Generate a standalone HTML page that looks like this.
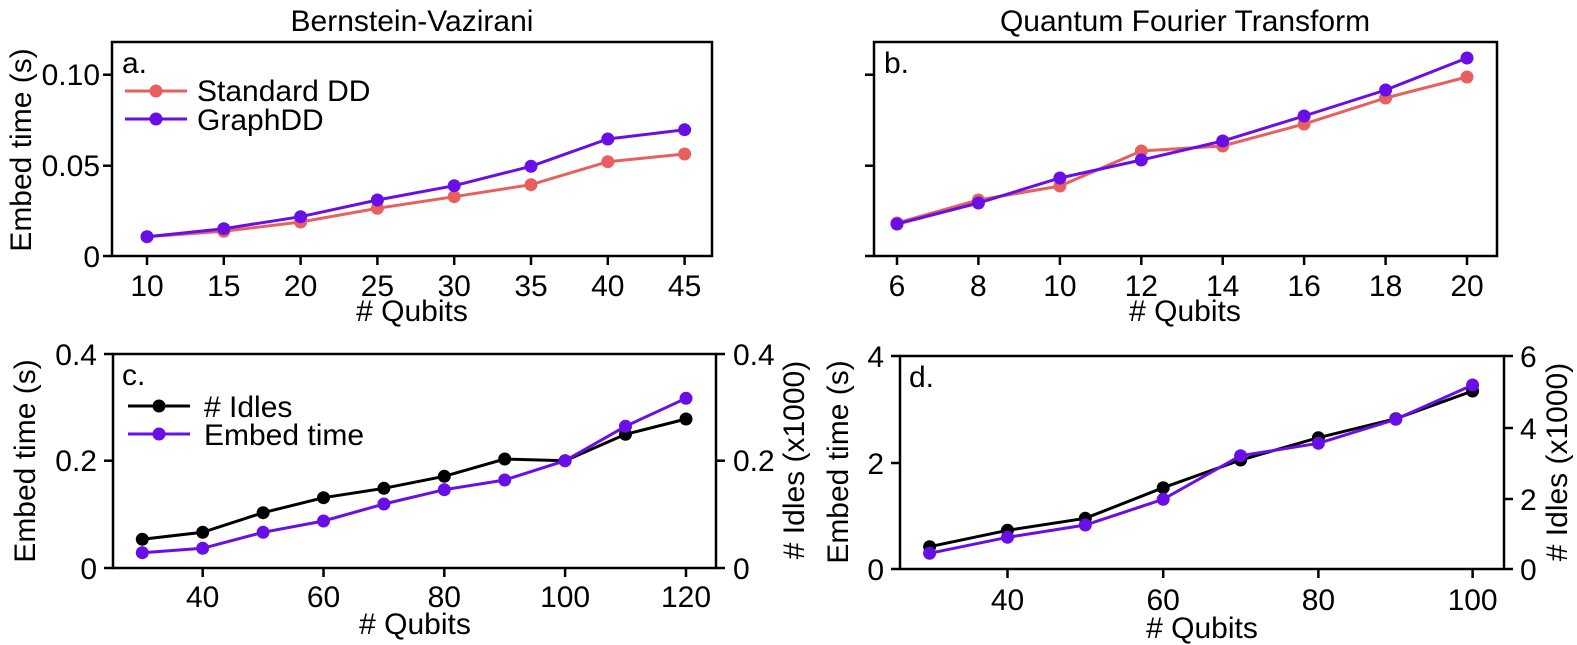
<!DOCTYPE html>
<html><head><meta charset="utf-8"><style>
body{margin:0;background:#fff}
svg{display:block}
text{font-family:"Liberation Sans",Arial,sans-serif;fill:#000}
.t{font-size:30px}
.ax{fill:none;stroke:#000;stroke-width:2.5}
.tk{stroke:#000;stroke-width:2.5}
.r{fill:none;stroke:#e8605e;stroke-width:3}
.p{fill:none;stroke:#6a0ee8;stroke-width:3}
.k{fill:none;stroke:#000;stroke-width:3}
</style></head><body>
<svg width="1577" height="645" viewBox="0 0 1577 645" xmlns="http://www.w3.org/2000/svg">
<defs>
<g id="mr"><circle r="6.5" fill="#e8605e"/></g>
<g id="mp"><circle r="6.5" fill="#6a0ee8"/></g>
<g id="mk"><circle r="6.5" fill="#000"/></g>
</defs>
<text x="412" y="31" class="t" text-anchor="middle">Bernstein-Vazirani</text>
<text x="1185" y="31" class="t" text-anchor="middle">Quantum Fourier Transform</text>

<!-- Panel a -->
<rect x="112" y="42" width="600" height="214" class="ax"/>
<g class="tk">
<line x1="103" y1="256" x2="112" y2="256"/><line x1="103" y1="165.7" x2="112" y2="165.7"/><line x1="103" y1="74.7" x2="112" y2="74.7"/>
<line x1="147" y1="256" x2="147" y2="265"/><line x1="223.8" y1="256" x2="223.8" y2="265"/><line x1="300.6" y1="256" x2="300.6" y2="265"/><line x1="377.4" y1="256" x2="377.4" y2="265"/><line x1="454.2" y1="256" x2="454.2" y2="265"/><line x1="531" y1="256" x2="531" y2="265"/><line x1="607.8" y1="256" x2="607.8" y2="265"/><line x1="684.6" y1="256" x2="684.6" y2="265"/>
</g>
<g class="t" text-anchor="end">
<text x="100" y="267">0</text><text x="100" y="176">0.05</text><text x="100" y="85">0.10</text>
</g>
<g class="t" text-anchor="middle">
<text x="147" y="296">10</text><text x="223.8" y="296">15</text><text x="300.6" y="296">20</text><text x="377.4" y="296">25</text><text x="454.2" y="296">30</text><text x="531" y="296">35</text><text x="607.8" y="296">40</text><text x="684.6" y="296">45</text>
<text x="412" y="321"># Qubits</text>
</g>
<text class="t" text-anchor="middle" transform="translate(31,150) rotate(-90)">Embed time (s)</text>
<text x="122" y="73" class="t">a.</text>
<line x1="125" y1="91" x2="187" y2="91" class="r"/><use href="#mr" x="156" y="91"/>
<text x="197" y="101" class="t">Standard DD</text>
<line x1="125" y1="119" x2="187" y2="119" class="p"/><use href="#mp" x="156" y="119"/>
<text x="197" y="130" class="t">GraphDD</text>
<polyline class="r" points="147,236.7 223.8,231.3 300.6,222 377.4,208.3 454.2,196.7 531,184.7 607.8,161.7 684.6,154"/>
<g><use href="#mr" x="147" y="236.7"/><use href="#mr" x="223.8" y="231.3"/><use href="#mr" x="300.6" y="222"/><use href="#mr" x="377.4" y="208.3"/><use href="#mr" x="454.2" y="196.7"/><use href="#mr" x="531" y="184.7"/><use href="#mr" x="607.8" y="161.7"/><use href="#mr" x="684.6" y="154"/></g>
<polyline class="p" points="147,236.7 223.8,228.7 300.6,216.7 377.4,200 454.2,185.7 531,166.3 607.8,139 684.6,129.7"/>
<g><use href="#mp" x="147" y="236.7"/><use href="#mp" x="223.8" y="228.7"/><use href="#mp" x="300.6" y="216.7"/><use href="#mp" x="377.4" y="200"/><use href="#mp" x="454.2" y="185.7"/><use href="#mp" x="531" y="166.3"/><use href="#mp" x="607.8" y="139"/><use href="#mp" x="684.6" y="129.7"/></g>

<!-- Panel b -->
<rect x="874" y="42" width="623" height="214" class="ax"/>
<g class="tk">
<line x1="865" y1="256" x2="874" y2="256"/><line x1="865" y1="165.7" x2="874" y2="165.7"/><line x1="865" y1="74.7" x2="874" y2="74.7"/>
<line x1="897" y1="256" x2="897" y2="265"/><line x1="978.4" y1="256" x2="978.4" y2="265"/><line x1="1059.9" y1="256" x2="1059.9" y2="265"/><line x1="1141.3" y1="256" x2="1141.3" y2="265"/><line x1="1222.7" y1="256" x2="1222.7" y2="265"/><line x1="1304.1" y1="256" x2="1304.1" y2="265"/><line x1="1385.6" y1="256" x2="1385.6" y2="265"/><line x1="1467" y1="256" x2="1467" y2="265"/>
</g>
<g class="t" text-anchor="middle">
<text x="897" y="296">6</text><text x="978.4" y="296">8</text><text x="1059.9" y="296">10</text><text x="1141.3" y="296">12</text><text x="1222.7" y="296">14</text><text x="1304.1" y="296">16</text><text x="1385.6" y="296">18</text><text x="1467" y="296">20</text>
<text x="1185" y="321"># Qubits</text>
</g>
<text x="884" y="73" class="t">b.</text>
<polyline class="r" points="897,223 978.4,200 1059.9,186 1141.3,151 1222.7,146 1304.1,124 1385.6,98 1467,77"/>
<g><use href="#mr" x="897" y="223"/><use href="#mr" x="978.4" y="200"/><use href="#mr" x="1059.9" y="186"/><use href="#mr" x="1141.3" y="151"/><use href="#mr" x="1222.7" y="146"/><use href="#mr" x="1304.1" y="124"/><use href="#mr" x="1385.6" y="98"/><use href="#mr" x="1467" y="77"/></g>
<polyline class="p" points="897,224 978.4,203 1059.9,178 1141.3,160 1222.7,141 1304.1,116 1385.6,90 1467,58"/>
<g><use href="#mp" x="897" y="224"/><use href="#mp" x="978.4" y="203"/><use href="#mp" x="1059.9" y="178"/><use href="#mp" x="1141.3" y="160"/><use href="#mp" x="1222.7" y="141"/><use href="#mp" x="1304.1" y="116"/><use href="#mp" x="1385.6" y="90"/><use href="#mp" x="1467" y="58"/></g>

<!-- Panel c -->
<rect x="113" y="354" width="603" height="214" class="ax"/>
<g class="tk">
<line x1="104" y1="568" x2="113" y2="568"/><line x1="104" y1="460.7" x2="113" y2="460.7"/><line x1="104" y1="354" x2="113" y2="354"/>
<line x1="716" y1="568" x2="725" y2="568"/><line x1="716" y1="460.7" x2="725" y2="460.7"/><line x1="716" y1="354" x2="725" y2="354"/>
<line x1="202.7" y1="568" x2="202.7" y2="577"/><line x1="323.5" y1="568" x2="323.5" y2="577"/><line x1="444.3" y1="568" x2="444.3" y2="577"/><line x1="565.1" y1="568" x2="565.1" y2="577"/><line x1="686" y1="568" x2="686" y2="577"/>
</g>
<g class="t" text-anchor="end">
<text x="97" y="579">0</text><text x="97" y="471">0.2</text><text x="97" y="365">0.4</text>
</g>
<g class="t">
<text x="733" y="579">0</text><text x="733" y="471">0.2</text><text x="733" y="365">0.4</text>
</g>
<g class="t" text-anchor="middle">
<text x="202.7" y="607">40</text><text x="323.5" y="607">60</text><text x="444.3" y="607">80</text><text x="565.1" y="607">100</text><text x="686" y="607">120</text>
<text x="415" y="634"># Qubits</text>
</g>
<text class="t" text-anchor="middle" transform="translate(35,461) rotate(-90)">Embed time (s)</text>
<text class="t" text-anchor="middle" transform="translate(804,460) rotate(-90)"># Idles (x1000)</text>
<text x="122" y="385" class="t">c.</text>
<line x1="128" y1="406" x2="190" y2="406" class="k"/><use href="#mk" x="159" y="406"/>
<text x="204" y="417" class="t"># Idles</text>
<line x1="128" y1="434" x2="190" y2="434" class="p"/><use href="#mp" x="159" y="434"/>
<text x="204" y="445" class="t">Embed time</text>
<polyline class="k" points="142.3,539.3 202.7,532.3 263.1,512.7 323.5,497.7 383.9,488.3 444.3,476.3 504.7,459 565.1,460.7 625.5,434.3 686,419"/>
<g><use href="#mk" x="142.3" y="539.3"/><use href="#mk" x="202.7" y="532.3"/><use href="#mk" x="263.1" y="512.7"/><use href="#mk" x="323.5" y="497.7"/><use href="#mk" x="383.9" y="488.3"/><use href="#mk" x="444.3" y="476.3"/><use href="#mk" x="504.7" y="459"/><use href="#mk" x="565.1" y="460.7"/><use href="#mk" x="625.5" y="434.3"/><use href="#mk" x="686" y="419"/></g>
<polyline class="p" points="142.3,552.7 202.7,548.3 263.1,532.3 323.5,521 383.9,504 444.3,489.7 504.7,480 565.1,460.7 625.5,426.3 686,398.3"/>
<g><use href="#mp" x="142.3" y="552.7"/><use href="#mp" x="202.7" y="548.3"/><use href="#mp" x="263.1" y="532.3"/><use href="#mp" x="323.5" y="521"/><use href="#mp" x="383.9" y="504"/><use href="#mp" x="444.3" y="489.7"/><use href="#mp" x="504.7" y="480"/><use href="#mp" x="565.1" y="460.7"/><use href="#mp" x="625.5" y="426.3"/><use href="#mp" x="686" y="398.3"/></g>

<!-- Panel d -->
<rect x="900" y="356" width="604" height="213" class="ax"/>
<g class="tk">
<line x1="891" y1="569" x2="900" y2="569"/><line x1="891" y1="463" x2="900" y2="463"/><line x1="891" y1="356" x2="900" y2="356"/>
<line x1="1504" y1="569" x2="1513" y2="569"/><line x1="1504" y1="499" x2="1513" y2="499"/><line x1="1504" y1="428" x2="1513" y2="428"/><line x1="1504" y1="356" x2="1513" y2="356"/>
<line x1="1007.5" y1="569" x2="1007.5" y2="578"/><line x1="1163.2" y1="569" x2="1163.2" y2="578"/><line x1="1318.4" y1="569" x2="1318.4" y2="578"/><line x1="1472.6" y1="569" x2="1472.6" y2="578"/>
</g>
<g class="t" text-anchor="end">
<text x="884" y="580">0</text><text x="884" y="474">2</text><text x="884" y="367">4</text>
</g>
<g class="t">
<text x="1520" y="580">0</text><text x="1520" y="510">2</text><text x="1520" y="439">4</text><text x="1520" y="367">6</text>
</g>
<g class="t" text-anchor="middle">
<text x="1007.5" y="610">40</text><text x="1163.2" y="610">60</text><text x="1318.4" y="610">80</text><text x="1472.6" y="610">100</text>
<text x="1202" y="638"># Qubits</text>
</g>
<text class="t" text-anchor="middle" transform="translate(848,462) rotate(-90)">Embed time (s)</text>
<text class="t" text-anchor="middle" transform="translate(1567,462) rotate(-90)"># Idles (x1000)</text>
<text x="909" y="387" class="t">d.</text>
<polyline class="k" points="929.6,546.7 1007.5,530.3 1085.3,518.3 1163.2,487.7 1240.6,460 1318.4,437.7 1395.8,418.7 1472.6,391"/>
<g><use href="#mk" x="929.6" y="546.7"/><use href="#mk" x="1007.5" y="530.3"/><use href="#mk" x="1085.3" y="518.3"/><use href="#mk" x="1163.2" y="487.7"/><use href="#mk" x="1240.6" y="460"/><use href="#mk" x="1318.4" y="437.7"/><use href="#mk" x="1395.8" y="418.7"/><use href="#mk" x="1472.6" y="391"/></g>
<polyline class="p" points="929.6,553.3 1007.5,537.3 1085.3,525 1163.2,499.3 1240.6,455.7 1318.4,443.3 1395.8,419.3 1472.6,385"/>
<g><use href="#mp" x="929.6" y="553.3"/><use href="#mp" x="1007.5" y="537.3"/><use href="#mp" x="1085.3" y="525"/><use href="#mp" x="1163.2" y="499.3"/><use href="#mp" x="1240.6" y="455.7"/><use href="#mp" x="1318.4" y="443.3"/><use href="#mp" x="1395.8" y="419.3"/><use href="#mp" x="1472.6" y="385"/></g>
</svg>
</body></html>
